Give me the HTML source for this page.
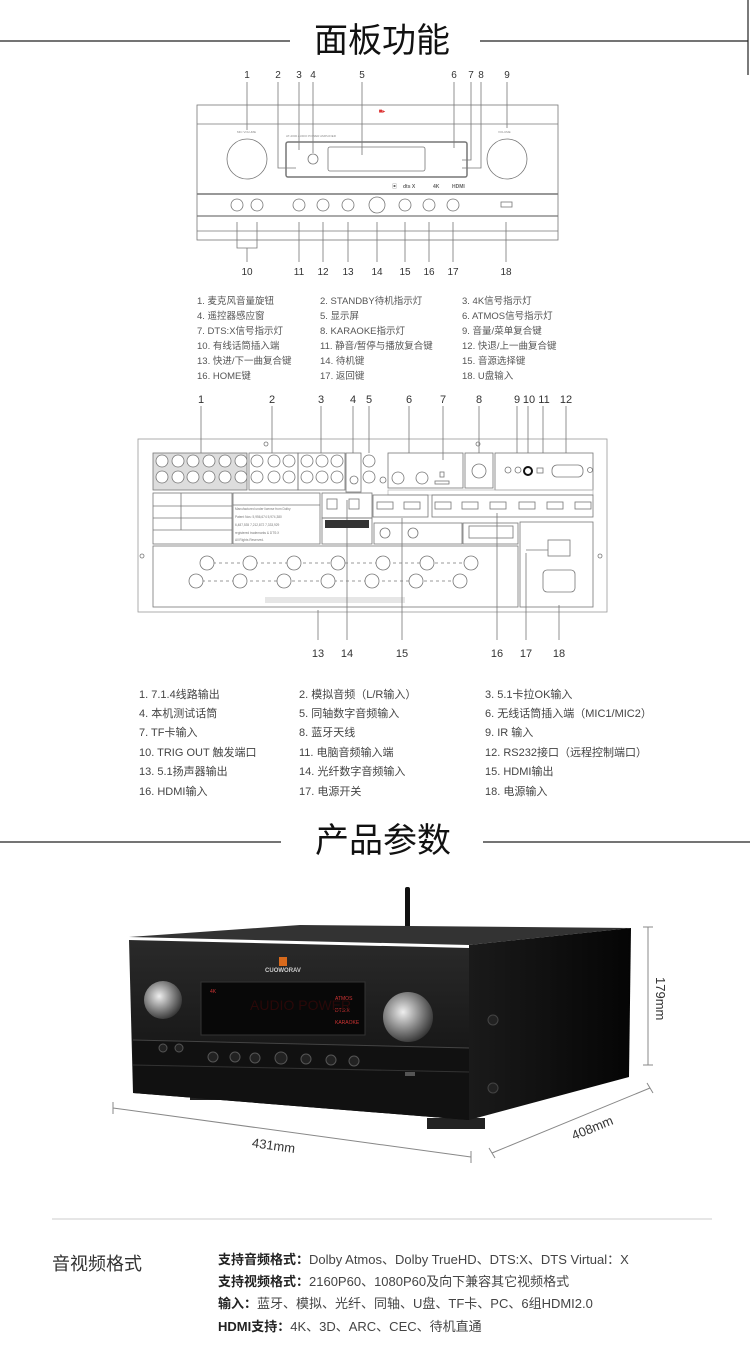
<!DOCTYPE html>
<html><head><meta charset="utf-8"><style>
html,body{margin:0;padding:0;background:#fff}
svg{display:block}
text{font-family:"Liberation Sans","Noto Sans CJK SC",sans-serif}
</style></head><body>
<svg width="750" height="1361" viewBox="0 0 750 1361" xmlns="http://www.w3.org/2000/svg">
<line x1="0" y1="41" x2="290" y2="41" stroke="#222" stroke-width="1.2"/>
<line x1="480" y1="41" x2="748" y2="41" stroke="#222" stroke-width="1.2"/>
<line x1="748" y1="0" x2="748" y2="75" stroke="#222" stroke-width="1.2"/>
<text x="382" y="52" font-size="34" text-anchor="middle" fill="#111">面板功能</text>

<g fill="none" stroke="#777" stroke-width="0.8">
<rect x="197" y="105" width="361" height="135"/>
<line x1="197" y1="124" x2="558" y2="124"/>
<line x1="197" y1="194" x2="558" y2="194" stroke-width="1.5"/>
<line x1="197" y1="216" x2="558" y2="216" stroke-width="1.2"/>
<line x1="197" y1="231" x2="558" y2="231"/>
<circle cx="247" cy="159" r="20"/><circle cx="507" cy="159" r="20"/>
<rect x="286" y="142" width="181" height="35" rx="2" stroke-width="1.5"/>
<rect x="328" y="147" width="97" height="24" rx="2"/>
<circle cx="313" cy="159" r="5"/>
<circle cx="237" cy="205" r="6"/><circle cx="257" cy="205" r="6"/>
<circle cx="299" cy="205" r="6"/><circle cx="323" cy="205" r="6"/><circle cx="348" cy="205" r="6"/>
<circle cx="377" cy="205" r="8"/><circle cx="405" cy="205" r="6"/><circle cx="429" cy="205" r="6"/><circle cx="453" cy="205" r="6"/>
<rect x="501" y="202" width="11" height="5"/>
<path d="M247 82V130M278 82V168H296M299 82V150M313 82V153M362 82V155M454 82V148M471 82V160H462M481 82V168H462M507 82V128"/>
<path d="M237 222V248H257V222M247 248V262M299 222V262M323 222V262M348 222V262M377 222V262M405 222V262M429 222V262M453 222V262M506 222V262"/>
</g>
<text x="382" y="113" font-size="6" fill="#d33" text-anchor="middle">■▸</text>
<g font-size="3" fill="#888"><text x="237" y="133">MIC VOLUME</text><text x="498" y="133">VOLUME</text><text x="286" y="137">AT-2000 AUDIO POWER AMPLIFIER</text></g>
<g font-size="5" fill="#666" font-weight="bold"><text x="392" y="188">▣</text><text x="403" y="188">dts X</text><text x="433" y="188">4K</text><text x="452" y="188">HDMI</text></g>
<g font-size="10" fill="#333" text-anchor="middle">
<text x="247" y="78">1</text><text x="278" y="78">2</text><text x="299" y="78">3</text><text x="313" y="78">4</text><text x="362" y="78">5</text><text x="454" y="78">6</text><text x="471" y="78">7</text><text x="481" y="78">8</text><text x="507" y="78">9</text>
<text x="247" y="275">10</text><text x="299" y="275">11</text><text x="323" y="275">12</text><text x="348" y="275">13</text><text x="377" y="275">14</text><text x="405" y="275">15</text><text x="429" y="275">16</text><text x="453" y="275">17</text><text x="506" y="275">18</text>
</g>
<g font-size="9.5" fill="#555">
<text x="197" y="304">1. 麦克风音量旋钮</text><text x="320" y="304">2. STANDBY待机指示灯</text><text x="462" y="304">3. 4K信号指示灯</text>
<text x="197" y="319">4. 遥控器感应窗</text><text x="320" y="319">5. 显示屏</text><text x="462" y="319">6. ATMOS信号指示灯</text>
<text x="197" y="334">7. DTS:X信号指示灯</text><text x="320" y="334">8. KARAOKE指示灯</text><text x="462" y="334">9. 音量/菜单复合键</text>
<text x="197" y="349">10. 有线话筒插入端</text><text x="320" y="349">11. 静音/暂停与播放复合键</text><text x="462" y="349">12. 快退/上一曲复合键</text>
<text x="197" y="364">13. 快进/下一曲复合键</text><text x="320" y="364">14. 待机键</text><text x="462" y="364">15. 音源选择键</text>
<text x="197" y="379">16. HOME键</text><text x="320" y="379">17. 返回键</text><text x="462" y="379">18. U盘输入</text>
</g>

<g fill="none" stroke="#777" stroke-width="0.8">
<rect x="138" y="439" width="469" height="173" stroke="#999"/>
<rect x="153" y="453" width="94" height="37" fill="#ddd"/>
<g fill="#fff"><circle cx="162" cy="461" r="6"/><circle cx="178" cy="461" r="6"/><circle cx="193" cy="461" r="6"/><circle cx="209" cy="461" r="6"/><circle cx="225" cy="461" r="6"/><circle cx="241" cy="461" r="6"/>
<circle cx="162" cy="477" r="6"/><circle cx="178" cy="477" r="6"/><circle cx="193" cy="477" r="6"/><circle cx="209" cy="477" r="6"/><circle cx="225" cy="477" r="6"/><circle cx="241" cy="477" r="6"/></g>
<rect x="249" y="453" width="49" height="37"/>
<circle cx="257" cy="461" r="6"/><circle cx="274" cy="461" r="6"/><circle cx="289" cy="461" r="6"/><circle cx="257" cy="477" r="6"/><circle cx="274" cy="477" r="6"/><circle cx="289" cy="477" r="6"/>
<rect x="298" y="453" width="47" height="37"/>
<circle cx="307" cy="461" r="6"/><circle cx="322" cy="461" r="6"/><circle cx="337" cy="461" r="6"/><circle cx="307" cy="477" r="6"/><circle cx="322" cy="477" r="6"/><circle cx="337" cy="477" r="6"/>
<rect x="346" y="453" width="15" height="39"/><circle cx="354" cy="480" r="4"/>
<circle cx="369" cy="461" r="6"/><circle cx="369" cy="477" r="6"/><circle cx="383" cy="480" r="3"/>
<rect x="388" y="453" width="75" height="35"/>
<circle cx="398" cy="478" r="6"/><circle cx="422" cy="478" r="6"/><rect x="435" y="481" width="14" height="3"/><rect x="440" y="472" width="4" height="5"/>
<rect x="465" y="453" width="28" height="35"/><circle cx="479" cy="471" r="7"/>
<rect x="495" y="453" width="98" height="37"/>
<circle cx="508" cy="470" r="3"/><circle cx="518" cy="470" r="3"/><circle cx="528" cy="471" r="4" stroke="#111" stroke-width="2"/><rect x="537" y="468" width="6" height="5"/><rect x="552" y="465" width="31" height="12" rx="5"/><circle cx="590" cy="470" r="2.5"/>
<rect x="388" y="490" width="205" height="5" stroke="#bbb"/>
<rect x="373" y="495" width="55" height="22"/><rect x="432" y="495" width="161" height="22"/>
<rect x="377" y="502" width="16" height="7"/><rect x="404" y="502" width="16" height="7"/>
<rect x="435" y="502" width="16" height="7"/><rect x="462" y="502" width="16" height="7"/><rect x="490" y="502" width="16" height="7"/><rect x="519" y="502" width="16" height="7"/><rect x="547" y="502" width="16" height="7"/><rect x="575" y="502" width="16" height="7"/>
<rect x="153" y="493" width="79" height="51"/><path d="M153 506H232M153 518H232M153 530H232M181 493V530"/>
<rect x="233" y="493" width="87" height="51"/><path d="M233 505H320"/>
<rect x="322" y="493" width="50" height="25"/><rect x="327" y="499" width="10" height="10"/><rect x="349" y="499" width="10" height="10"/>
<rect x="322" y="518" width="50" height="26"/>
<rect x="374" y="523" width="88" height="21"/><circle cx="385" cy="533" r="5"/><circle cx="413" cy="533" r="5"/>
<rect x="463" y="523" width="55" height="21"/><rect x="469" y="526" width="44" height="12"/>
<rect x="520" y="522" width="73" height="85"/><rect x="548" y="540" width="22" height="16"/><rect x="543" y="570" width="32" height="22" rx="4"/>
<path d="M526 550H548"/>
<rect x="153" y="546" width="365" height="61"/>
<path d="M207 563H471M196 581H460" stroke-dasharray="3 3"/>
<g fill="#fff"><circle cx="207" cy="563" r="7"/><circle cx="250" cy="563" r="7"/><circle cx="294" cy="563" r="7"/><circle cx="338" cy="563" r="7"/><circle cx="383" cy="563" r="7"/><circle cx="427" cy="563" r="7"/><circle cx="471" cy="563" r="7"/>
<circle cx="196" cy="581" r="7"/><circle cx="240" cy="581" r="7"/><circle cx="284" cy="581" r="7"/><circle cx="328" cy="581" r="7"/><circle cx="372" cy="581" r="7"/><circle cx="416" cy="581" r="7"/><circle cx="460" cy="581" r="7"/></g>
<rect x="265" y="597" width="140" height="6" fill="#e6e6e6" stroke="none"/>
<circle cx="266" cy="444" r="2"/><circle cx="478" cy="444" r="2"/><circle cx="142" cy="556" r="2"/><circle cx="600" cy="556" r="2"/>
<path d="M201 406V453M272 406V453M321 406V453M353 406V453M369 406V453M409 406V453M443 406V460M479 406V453M517 406V453M528 406V453M543 406V453M566 406V453"/>
<path d="M318 610V640M347 500V640M402 518V640M497 513V640M526 553V640M559 605V640"/>
</g>
<g fill="#333"><rect x="325" y="520" width="44" height="8"/></g>
<g font-size="11" fill="#333" text-anchor="middle">
<text x="201" y="403">1</text><text x="272" y="403">2</text><text x="321" y="403">3</text><text x="353" y="403">4</text><text x="369" y="403">5</text><text x="409" y="403">6</text><text x="443" y="403">7</text><text x="479" y="403">8</text><text x="517" y="403">9</text><text x="529" y="403">10</text><text x="544" y="403">11</text><text x="566" y="403">12</text>
<text x="318" y="657">13</text><text x="347" y="657">14</text><text x="402" y="657">15</text><text x="497" y="657">16</text><text x="526" y="657">17</text><text x="559" y="657">18</text>
</g>
<g font-size="3.2" fill="#777"><text x="235" y="510">Manufactured under license from Dolby</text><text x="235" y="518">Patent Nos: 5,956,674 5,974,380</text><text x="235" y="526">6,487,535 7,212,872 7,333,929</text><text x="235" y="534">registered trademarks &amp; DTS:X</text><text x="235" y="541">All Rights Reserved.</text></g>

<g font-size="11" fill="#444">
<text x="139" y="698">1. 7.1.4线路输出</text><text x="299" y="698">2. 模拟音频（L/R输入）</text><text x="485" y="698">3. 5.1卡拉OK输入</text>
<text x="139" y="717">4. 本机测试话筒</text><text x="299" y="717">5. 同轴数字音频输入</text><text x="485" y="717">6. 无线话筒插入端（MIC1/MIC2）</text>
<text x="139" y="736">7. TF卡输入</text><text x="299" y="736">8. 蓝牙天线</text><text x="485" y="736">9.  IR 输入</text>
<text x="139" y="756">10. TRIG OUT 触发端口</text><text x="299" y="756">11. 电脑音频输入端</text><text x="485" y="756">12. RS232接口（远程控制端口）</text>
<text x="139" y="775">13. 5.1扬声器输出</text><text x="299" y="775">14. 光纤数字音频输入</text><text x="485" y="775">15. HDMI输出</text>
<text x="139" y="795">16. HDMI输入</text><text x="299" y="795">17. 电源开关</text><text x="485" y="795">18. 电源输入</text>
</g>

<line x1="0" y1="842" x2="281" y2="842" stroke="#222" stroke-width="1.2"/>
<line x1="483" y1="842" x2="750" y2="842" stroke="#222" stroke-width="1.2"/>
<text x="383" y="852" font-size="34" text-anchor="middle" fill="#111">产品参数</text>

<defs>
<linearGradient id="fr" x1="0" y1="0" x2="0" y2="1"><stop offset="0" stop-color="#2a2a2a"/><stop offset="1" stop-color="#0c0c0c"/></linearGradient>
<linearGradient id="sd" x1="0" y1="0" x2="1" y2="0"><stop offset="0" stop-color="#1a1a1a"/><stop offset="1" stop-color="#050505"/></linearGradient>
<radialGradient id="kn" cx="0.4" cy="0.4" r="0.7"><stop offset="0" stop-color="#eee"/><stop offset="0.5" stop-color="#888"/><stop offset="1" stop-color="#222"/></radialGradient>
</defs>
<rect x="405" y="887" width="5" height="50" rx="2" fill="#111"/>
<rect x="190" y="1088" width="48" height="12" fill="#222"/>
<rect x="427" y="1118" width="58" height="11" fill="#222"/>
<polygon points="129,937 469,945 631,928 300,925" fill="#333"/>
<polygon points="469,945 631,928 629,1077 469,1120" fill="url(#sd)"/>
<polygon points="129,940 469,948 469,1120 133,1093" fill="url(#fr)"/>
<polygon points="133,1040 469,1048 469,1120 133,1093" fill="#111"/>
<line x1="133" y1="1040" x2="469" y2="1048" stroke="#444"/>
<line x1="133" y1="1065" x2="469" y2="1072" stroke="#333"/>
<rect x="201" y="982" width="164" height="53" fill="#080808" stroke="#333"/>
<g font-size="5" fill="#c33"><text x="210" y="993">4K</text><text x="335" y="1000">ATMOS</text><text x="335" y="1012">DTS:X</text><text x="335" y="1024">KARAOKE</text></g>
<text x="250" y="1010" font-size="14" fill="#2a0808">AUDIO POWER</text>
<circle cx="163" cy="1000" r="19" fill="url(#kn)"/>
<circle cx="408" cy="1017" r="25" fill="url(#kn)"/>
<text x="283" y="972" font-size="6" fill="#ccc" text-anchor="middle" font-weight="bold">CUOWORAV</text>
<rect x="279" y="957" width="8" height="9" fill="#d86a1c"/>
<g fill="#222" stroke="#555" stroke-width="1"><circle cx="163" cy="1048" r="4"/><circle cx="179" cy="1048" r="4"/><circle cx="213" cy="1057" r="5"/><circle cx="235" cy="1057" r="5"/><circle cx="255" cy="1058" r="5"/><circle cx="281" cy="1058" r="6"/><circle cx="306" cy="1059" r="5"/><circle cx="331" cy="1060" r="5"/><circle cx="354" cy="1061" r="5"/></g>
<rect x="405" y="1072" width="10" height="4" fill="#555"/>
<circle cx="493" cy="1020" r="5" fill="#222" stroke="#444"/><circle cx="493" cy="1088" r="5" fill="#222" stroke="#444"/>
<g stroke="#888" stroke-width="1" fill="none">
<path d="M648 927V1065M643 927H653M643 1065H653"/>
<path d="M113 1108L471 1157M113 1102V1114M471 1151V1163"/>
<path d="M492 1153L650 1088M489 1148L495 1158M647 1083L653 1093"/>
</g>
<text font-size="13" fill="#333" transform="translate(656,977) rotate(90)">179mm</text>
<text font-size="13" fill="#333" text-anchor="middle" transform="translate(273,1150) rotate(7.8)">431mm</text>
<text font-size="13" fill="#333" text-anchor="middle" transform="translate(594,1132) rotate(-22)">408mm</text>

<line x1="52" y1="1219" x2="712" y2="1219" stroke="#ccc" stroke-width="1"/>
<text x="52" y="1270" font-size="18" fill="#333">音视频格式</text>
<g font-size="13" fill="#444">
<text x="218" y="1264"><tspan font-weight="bold" fill="#222">支持音频格式：</tspan>Dolby Atmos、Dolby TrueHD、DTS:X、DTS Virtual：X</text>
<text x="218" y="1286"><tspan font-weight="bold" fill="#222">支持视频格式：</tspan>2160P60、1080P60及向下兼容其它视频格式</text>
<text x="218" y="1308"><tspan font-weight="bold" fill="#222">输入：</tspan>蓝牙、模拟、光纤、同轴、U盘、TF卡、PC、6组HDMI2.0</text>
<text x="218" y="1331"><tspan font-weight="bold" fill="#222">HDMI支持：</tspan>4K、3D、ARC、CEC、待机直通</text>
</g>
</svg>
</body></html>
